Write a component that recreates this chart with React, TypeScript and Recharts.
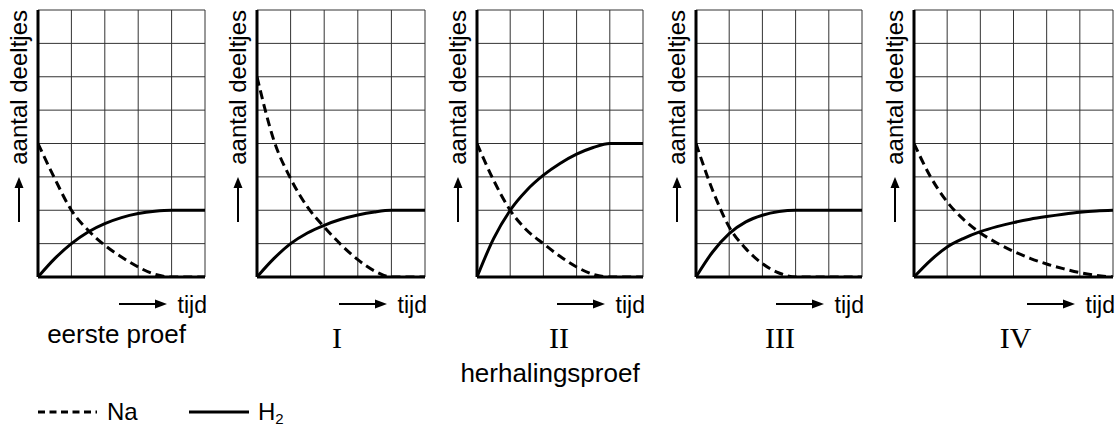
import React from 'react';
import { LineChart, Line, XAxis, YAxis, CartesianGrid, Label } from 'recharts';

// time points (grid units)
const tijd5 = [0, 0.5, 1, 1.5, 2, 2.5, 3, 3.5, 4, 4.5, 5];
const tijd6 = [0, 0.5, 1, 1.5, 2, 2.5, 3, 3.5, 4, 4.5, 5, 5.5, 6];
const yTicks = [0, 1, 2, 3, 4, 5, 6, 7, 8];

// eerste proef
const naEerste = [4, 2.95, 2.0, 1.4, 0.95, 0.6, 0.3, 0.08, 0, 0, 0];
const h2Eerste = [0, 0.55, 1.0, 1.35, 1.6, 1.78, 1.9, 1.97, 2, 2, 2];
// I
const naI = [6, 4.1, 2.95, 2.1, 1.5, 0.97, 0.52, 0.18, 0, 0, 0];
const h2I = [0, 0.55, 1.0, 1.32, 1.55, 1.73, 1.86, 1.95, 2, 2, 2];
// II
const naII = [4, 2.9, 2.0, 1.4, 1.0, 0.62, 0.3, 0.08, 0, 0, 0];
const h2II = [0, 1.15, 2.0, 2.6, 3.05, 3.4, 3.68, 3.88, 4, 4, 4];
// III
const naIII = [4, 2.6, 1.5, 0.85, 0.4, 0.12, 0, 0, 0, 0, 0];
const h2III = [0, 0.75, 1.3, 1.65, 1.85, 1.96, 2, 2, 2, 2, 2];
// IV
const naIV = [4, 3.0, 2.25, 1.72, 1.32, 1.02, 0.77, 0.56, 0.39, 0.25, 0.13, 0.05, 0];
const h2IV = [0, 0.5, 0.9, 1.16, 1.36, 1.51, 1.63, 1.73, 1.81, 1.88, 1.94, 1.98, 2];

const panelLabels = ['eerste proef', 'I', 'II', 'III', 'IV'];
const yLabel = 'aantal deeltjes';
const xLabel = 'tijd';
const groupLabel = 'herhalingsproef';
const legendNa = 'Na';
const legendH2 = 'H';

const SANS = '"Liberation Sans", Arial, Helvetica, sans-serif';
const SERIF = '"Liberation Serif", "Times New Roman", serif';

const PLOT_TOP = 10;
const PLOT_H = 267;
const Y_AXIS_W = 38;
const CHART_H = 360;
const RIGHT_M = 6;

const EmptyTick = () => <g />;

type PanelProps = {
  t: number[];
  na: number[];
  h2: number[];
  plotLeft: number;
  plotWidth: number;
  label: string;
  serif: boolean;
  labelShift: number;
};

function Panel({ t, na, h2, plotLeft, plotWidth, label, serif, labelShift }: PanelProps) {
  const rows = t.map((x, i) => ({ t: x, na: na[i], h2: h2[i] }));
  const xMax = t[t.length - 1];
  const xTicks = Array.from({ length: xMax + 1 }, (_, i) => i);
  const width = Y_AXIS_W + plotWidth + RIGHT_M;

  const yLabelContent = (props: any) => {
    const vb = props.viewBox || { x: 0, y: PLOT_TOP, width: Y_AXIS_W, height: PLOT_H };
    const right = vb.x + vb.width;
    const top = vb.y;
    const ax = right - 19;
    return (
      <g>
        <text
          x={right - 11}
          y={top}
          transform={`rotate(-90 ${right - 11} ${top})`}
          textAnchor="end"
          fontFamily={SANS}
          fontSize={24}
          fill="#000"
        >
          {yLabel}
        </text>
        <line x1={ax} x2={ax} y1={top + 212} y2={top + 176} stroke="#000" strokeWidth={2} />
        <polygon points={`${ax},${top + 167} ${ax - 4.5},${top + 178} ${ax + 4.5},${top + 178}`} fill="#000" />
      </g>
    );
  };

  const xLabelContent = (props: any) => {
    const vb = props.viewBox || { x: Y_AXIS_W, y: PLOT_TOP + PLOT_H, width: plotWidth, height: 80 };
    const left = vb.x;
    const right = vb.x + vb.width;
    const bottom = vb.y;
    const ay = bottom + 27;
    return (
      <g>
        <line x1={right - 86} x2={right - 48} y1={ay} y2={ay} stroke="#000" strokeWidth={2} />
        <polygon points={`${right - 38},${ay} ${right - 50},${ay - 4.5} ${right - 50},${ay + 4.5}`} fill="#000" />
        <text x={right + 2} y={bottom + 36} textAnchor="end" fontFamily={SANS} fontSize={23} fill="#000">
          {xLabel}
        </text>
        <text
          x={(left + right) / 2 + labelShift}
          y={bottom + (serif ? 71 : 66)}
          textAnchor="middle"
          fontFamily={serif ? SERIF : SANS}
          fontSize={serif ? 30 : 26}
          fill="#000"
        >
          {label}
        </text>
      </g>
    );
  };

  return (
    <div style={{ position: 'absolute', left: plotLeft - Y_AXIS_W, top: 0 }}>
      <LineChart
        width={width}
        height={CHART_H}
        data={rows}
        margin={{ top: PLOT_TOP, right: RIGHT_M, left: 0, bottom: 0 }}
      >
        <CartesianGrid stroke="#333" strokeWidth={1} horizontal vertical />
        <XAxis
          dataKey="t"
          type="number"
          domain={[0, xMax]}
          ticks={xTicks}
          interval={0}
          tick={EmptyTick}
          tickLine={false}
          axisLine={{ stroke: '#000', strokeWidth: 3 }}
          height={CHART_H - PLOT_TOP - PLOT_H}
          allowDataOverflow
        >
          <Label content={xLabelContent} />
        </XAxis>
        <YAxis
          type="number"
          domain={[0, 8]}
          ticks={yTicks}
          interval={0}
          tick={EmptyTick}
          tickLine={false}
          axisLine={{ stroke: '#000', strokeWidth: 3 }}
          width={Y_AXIS_W}
          allowDataOverflow
        >
          <Label content={yLabelContent} />
        </YAxis>
        <Line
          type="monotone"
          dataKey="na"
          stroke="#000"
          strokeWidth={3}
          strokeDasharray="9 5"
          dot={false}
          activeDot={false}
          isAnimationActive={false}
        />
        <Line
          type="monotone"
          dataKey="h2"
          stroke="#000"
          strokeWidth={3}
          dot={false}
          activeDot={false}
          isAnimationActive={false}
        />
      </LineChart>
    </div>
  );
}

export default function App() {
  return (
    <div
      style={{
        position: 'absolute',
        left: 0,
        top: 0,
        width: 1120,
        height: 427,
        background: '#fff',
        overflow: 'hidden',
      }}
    >
      <Panel t={tijd5} na={naEerste} h2={h2Eerste} plotLeft={38} plotWidth={167} label={panelLabels[0]} serif={false} labelShift={-5} />
      <Panel t={tijd5} na={naI} h2={h2I} plotLeft={257} plotWidth={168} label={panelLabels[1]} serif labelShift={-4} />
      <Panel t={tijd5} na={naII} h2={h2II} plotLeft={477} plotWidth={166} label={panelLabels[2]} serif labelShift={-1} />
      <Panel t={tijd5} na={naIII} h2={h2III} plotLeft={696} plotWidth={166} label={panelLabels[3]} serif labelShift={1} />
      <Panel t={tijd6} na={naIV} h2={h2IV} plotLeft={914} plotWidth={199} label={panelLabels[4]} serif labelShift={2} />
      <svg style={{ position: 'absolute', left: 0, top: 350 }} width={1120} height={77}>
        <text x={550} y={32} textAnchor="middle" fontFamily={SANS} fontSize={26} fill="#000">
          {groupLabel}
        </text>
        <line x1={38} x2={97} y1={62} y2={62} stroke="#000" strokeWidth={3} strokeDasharray="7 4.5" />
        <text x={107} y={70} fontFamily={SANS} fontSize={24} fill="#000">
          {legendNa}
        </text>
        <line x1={189} x2={249} y1={62} y2={62} stroke="#000" strokeWidth={3} />
        <text x={258} y={70} fontFamily={SANS} fontSize={24} fill="#000">
          {legendH2}
          <tspan dy={4} fontSize={15}>2</tspan>
        </text>
      </svg>
    </div>
  );
}
